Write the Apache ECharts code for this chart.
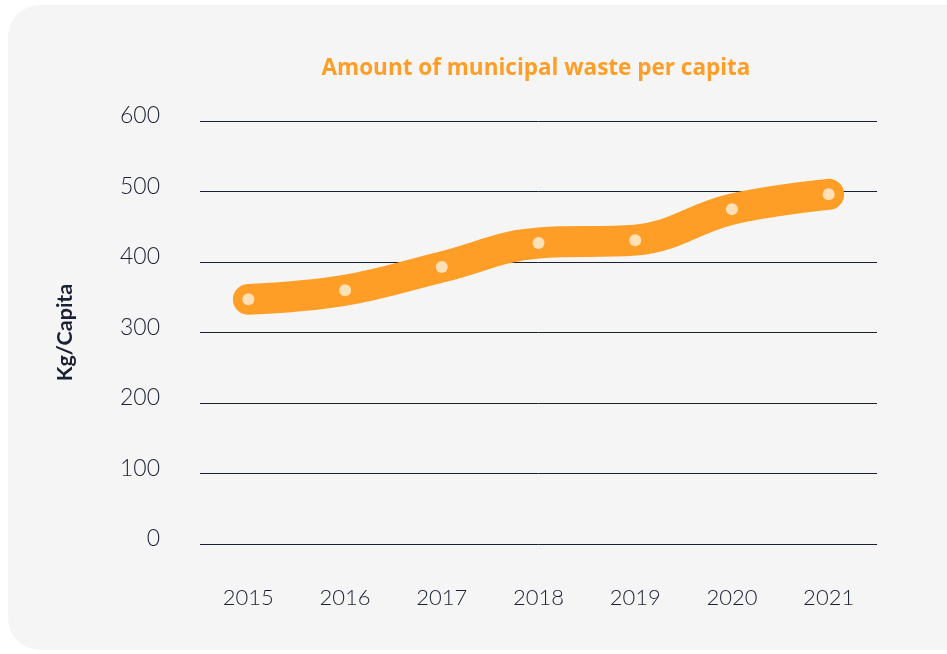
<!DOCTYPE html>
<html>
<head>
<meta charset="utf-8">
<script src="https://cdn.jsdelivr.net/npm/echarts@6/dist/echarts.min.js"></script>
<style>html,body{margin:0;padding:0;background:#fff}#c{width:947px;height:654px}</style>
</head>
<body>
<div id="c"></div>
<script>
const years = ['2015','2016','2017','2018','2019','2020','2021'];
const wastePerCapita = [347, 360, 393, 427, 431, 475, 496];
const yTicks = [0, 100, 200, 300, 400, 500, 600];

const chart = echarts.init(document.getElementById('c'));
chart.setOption({
  backgroundColor: '#ffffff',
  animation: false,
  graphic: [{
    type: 'rect', z: -10, silent: true,
    shape: { x: 8, y: 5, width: 980, height: 645, r: 32 },
    style: { fill: '#f5f5f5' }
  }],
  title: {
    text: 'Amount of municipal waste per capita',
    left: 531, top: 52, textAlign: 'center',
    textStyle: { color: '#ff9e27', fontSize: 22.5, fontWeight: 'bold', fontFamily: 'Open Sans' }
  },
  grid: { left: 200, right: 70, top: 121, bottom: 110 },
  xAxis: {
    type: 'category', data: years, boundaryGap: true,
    axisLine: { show: false }, axisTick: { show: false },
    axisLabel: { color: '#1b2033', fontSize: 22, margin: 43, fontFamily: 'Lato', fontWeight: 300 }
  },
  yAxis: {
    type: 'value', min: yTicks[0], max: yTicks[yTicks.length - 1], interval: 100,
    name: 'Kg/Capita', nameLocation: 'middle', nameGap: 124, nameRotate: 90,
    nameTextStyle: { color: '#1b2033', fontSize: 21.5, fontWeight: 'bold', fontFamily: 'Lato' },
    axisLine: { show: false }, axisTick: { show: false },
    axisLabel: { color: '#1b2033', fontSize: 23, margin: 40, fontFamily: 'Lato', fontWeight: 300, verticalAlign: 'bottom', lineHeight: 10 },
    splitLine: { lineStyle: { color: '#1b2033', width: 1 } }
  },
  series: [
    {
      type: 'line', data: wastePerCapita, smooth: 0.4, symbol: 'none',
      lineStyle: { color: '#ff9e27', width: 31, cap: 'round', join: 'round' }
    },
    {
      type: 'scatter', data: wastePerCapita, symbol: 'circle', symbolSize: 12,
      itemStyle: { color: '#fff0dc' }, z: 5
    }
  ]
});
</script>
</body>
</html>
